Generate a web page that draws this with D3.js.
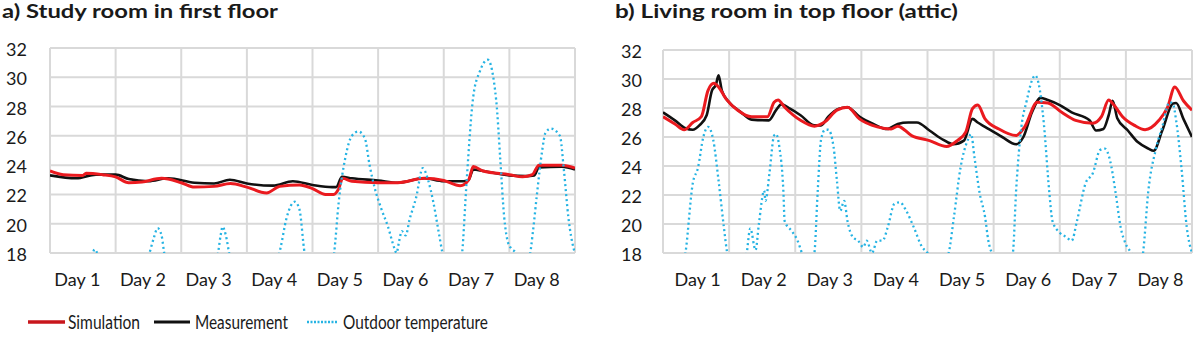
<!DOCTYPE html>
<html>
<head>
<meta charset="utf-8">
<script src="https://cdn.jsdelivr.net/npm/d3@7"></script>
<style>
  html, body { margin: 0; padding: 0; background: #fff; }
  svg { display: block; }
  text { font-family: Lato, "Open Sans", sans-serif; fill: #1a1a1a; }
</style>
</head>
<body>
<svg id="chart" width="1200" height="346"></svg>
<script>
// ---------- data ----------
const dayLabels = ["Day 1","Day 2","Day 3","Day 4","Day 5","Day 6","Day 7","Day 8"];
const yTicks = [18, 20, 22, 24, 26, 28, 30, 32];
const seriesNames = ["Simulation", "Measurement", "Outdoor temperature"];
const titles = ["a) Study room in first floor", "b) Living room in top floor (attic)"];

// [day, °C]
const simStudy = [[0,23.6],[0.2,23.35],[0.5,23.3],[0.55,23.45],[0.8,23.35],[1.0,23.2],[1.2,22.8],[1.4,22.85],[1.7,23.1],[2.0,22.8],[2.2,22.5],[2.5,22.55],[2.75,22.75],[3.0,22.5],[3.3,22.1],[3.5,22.55],[3.8,22.65],[4.0,22.4],[4.2,22.0],[4.32,22.0],[4.4,22.4],[4.46,23.1],[4.6,22.9],[5.0,22.8],[5.3,22.8],[5.7,23.1],[6.0,22.95],[6.25,22.6],[6.38,23.0],[6.45,23.9],[6.6,23.6],[7.0,23.35],[7.2,23.2],[7.35,23.35],[7.45,24.0],[7.8,24.0],[8.0,23.8]];
const measStudy = [[0,23.3],[0.4,23.1],[0.7,23.35],[1.0,23.35],[1.2,23.05],[1.5,22.9],[1.8,23.1],[2.2,22.8],[2.5,22.75],[2.74,23.0],[3.0,22.75],[3.4,22.6],[3.7,22.9],[4.0,22.65],[4.3,22.5],[4.36,22.5],[4.45,23.2],[4.6,23.1],[5.0,22.95],[5.3,22.8],[5.7,23.1],[6.0,22.9],[6.3,22.9],[6.38,23.0],[6.45,23.7],[6.6,23.6],[7.0,23.3],[7.25,23.25],[7.38,23.3],[7.45,23.85],[7.8,23.9],[8.0,23.7]];
const outStudy = [[0,15.5],[0.4,16.5],[0.64,17.8],[0.68,18.25],[0.72,18.0],[0.85,16.5],[1.2,15.0],[1.51,17.9],[1.58,19.0],[1.64,19.7],[1.7,19.2],[1.75,17.8],[2.1,15.5],[2.55,17.8],[2.6,19.2],[2.63,19.8],[2.68,19.2],[2.74,17.8],[3.1,15.0],[3.45,17.2],[3.52,18.5],[3.6,20.3],[3.73,21.5],[3.8,21.0],[3.88,18.0],[4.0,16.5],[4.25,16.0],[4.33,18.0],[4.4,21.5],[4.5,24.5],[4.6,26.0],[4.7,26.3],[4.8,25.8],[4.87,24.0],[4.95,22.4],[5.05,21.0],[5.15,19.8],[5.25,18.3],[5.28,18.0],[5.32,18.8],[5.36,19.5],[5.42,19.2],[5.48,20.3],[5.58,21.8],[5.68,23.8],[5.76,23.0],[5.84,21.5],[5.92,19.5],[5.98,18.0],[6.1,16.0],[6.22,16.5],[6.28,18.0],[6.35,23.0],[6.45,28.7],[6.55,30.4],[6.67,31.2],[6.8,28.4],[6.86,24.5],[6.92,20.5],[6.98,18.7],[7.03,18.3],[7.1,18.0],[7.2,16.5],[7.3,17.5],[7.36,19.5],[7.42,22.0],[7.5,25.0],[7.55,26.2],[7.63,26.5],[7.77,26.0],[7.83,23.7],[7.9,20.4],[7.98,18.3],[8.0,18.0]];

const simAttic = [[0,27.4],[0.18,26.9],[0.32,26.5],[0.45,27.0],[0.58,27.4],[0.68,29.2],[0.77,29.7],[0.84,29.45],[0.95,28.65],[1.13,27.85],[1.34,27.4],[1.58,27.4],[1.68,28.4],[1.74,28.55],[1.84,28.05],[2.08,27.15],[2.29,26.75],[2.45,27.05],[2.63,27.85],[2.79,28.05],[2.97,27.25],[3.24,26.7],[3.45,26.55],[3.55,26.75],[3.76,26.1],[4.03,25.75],[4.29,25.35],[4.45,25.75],[4.58,26.35],[4.68,27.95],[4.76,28.2],[4.87,27.25],[5.08,26.55],[5.34,26.1],[5.47,26.7],[5.66,28.4],[5.82,28.35],[6.03,27.7],[6.24,27.15],[6.5,26.95],[6.63,27.4],[6.74,28.55],[6.82,28.2],[6.95,27.4],[7.13,26.8],[7.29,26.5],[7.5,27.15],[7.63,28.05],[7.74,29.45],[7.87,28.5],[8.0,27.85]];
const measAttic = [[0,27.7],[0.18,27.15],[0.34,26.6],[0.45,26.5],[0.55,26.8],[0.66,27.5],[0.74,29.2],[0.8,29.6],[0.84,30.25],[0.89,29.2],[1.0,28.4],[1.18,27.7],[1.34,27.2],[1.6,27.15],[1.71,27.85],[1.79,28.25],[1.92,27.95],[2.08,27.5],[2.29,26.8],[2.39,26.8],[2.5,27.4],[2.66,27.95],[2.79,28.05],[2.97,27.4],[3.18,26.9],[3.39,26.55],[3.55,26.9],[3.71,27.0],[3.84,27.0],[4.03,26.45],[4.24,25.8],[4.39,25.5],[4.55,25.75],[4.68,27.25],[4.76,27.0],[4.87,26.7],[5.13,26.0],[5.34,25.5],[5.45,26.0],[5.58,27.7],[5.71,28.7],[5.82,28.55],[6.0,28.2],[6.18,27.7],[6.45,27.15],[6.55,26.45],[6.66,26.55],[6.74,27.5],[6.8,28.5],[6.87,27.3],[7.03,26.45],[7.18,25.65],[7.34,25.2],[7.42,25.05],[7.55,26.45],[7.71,28.3],[7.76,28.35],[7.87,27.25],[8.0,26.0]];
const outAttic = [[0,15.0],[0.2,15.8],[0.34,18.0],[0.45,22.8],[0.53,23.9],[0.61,26.0],[0.68,26.7],[0.76,25.8],[0.84,23.0],[0.92,19.8],[0.97,18.0],[1.1,16.0],[1.26,17.8],[1.32,19.7],[1.4,18.2],[1.45,20.0],[1.53,22.3],[1.55,21.6],[1.61,23.5],[1.68,26.1],[1.71,26.2],[1.76,25.3],[1.82,22.3],[1.84,20.2],[1.95,19.5],[2.03,18.9],[2.1,18.0],[2.2,16.5],[2.29,18.0],[2.34,22.3],[2.39,25.8],[2.45,26.5],[2.5,26.5],[2.58,25.3],[2.63,23.0],[2.68,20.9],[2.74,21.6],[2.79,20.2],[2.87,19.1],[2.95,18.85],[3.03,18.4],[3.08,18.85],[3.16,18.0],[3.24,18.85],[3.32,18.85],[3.4,19.8],[3.5,21.4],[3.58,21.5],[3.68,20.9],[3.79,19.8],[3.92,18.4],[4.0,18.0],[4.15,16.5],[4.32,18.0],[4.4,20.5],[4.5,23.9],[4.61,25.8],[4.66,26.2],[4.71,24.6],[4.79,22.1],[4.87,20.5],[4.92,18.85],[4.97,18.0],[5.1,16.5],[5.29,18.0],[5.34,22.3],[5.42,26.7],[5.5,28.5],[5.58,29.9],[5.63,30.25],[5.68,29.7],[5.76,26.9],[5.84,22.3],[5.89,20.2],[6.0,19.4],[6.1,19.1],[6.18,18.85],[6.26,20.2],[6.39,22.8],[6.5,23.5],[6.61,25.1],[6.68,25.2],[6.76,24.4],[6.84,22.3],[6.92,19.8],[7.0,18.6],[7.08,18.0],[7.2,16.5],[7.26,18.0],[7.34,22.3],[7.45,25.1],[7.55,26.7],[7.66,28.4],[7.71,28.3],[7.76,27.15],[7.84,23.9],[7.92,19.8],[8.0,18.0]];

// ---------- styles ----------
const colSim = "#ea1a1f", colMeas = "#111111", colOut = "#25b3e3", colGrid = "#d9d9d9";

const svg = d3.select("#chart");

function panel(idx, cfg) {
  const x = d3.scaleLinear().domain([0, 8]).range([cfg.x0, cfg.x1]);
  const y = d3.scaleLinear().domain([18, 32]).range([cfg.yb, cfg.yt]);
  const g = svg.append("g");

  // title
  g.append("text").attr("x", cfg.tx).attr("y", 18)
    .attr("font-size", 19.5).attr("font-weight", 700)
    .attr("textLength", cfg.tw).attr("lengthAdjust", "spacingAndGlyphs")
    .text(titles[idx]);

  // grid (horizontal)
  g.append("g").selectAll("line").data(yTicks).join("line")
    .attr("x1", cfg.x0).attr("x2", cfg.x1)
    .attr("y1", d => y(d)).attr("y2", d => y(d))
    .attr("stroke", colGrid).attr("stroke-width", 2);
  // grid (vertical) at day boundaries
  g.append("g").selectAll("line").data(d3.range(0, 9)).join("line")
    .attr("x1", d => x(d)).attr("x2", d => x(d))
    .attr("y1", y(32)).attr("y2", y(18))
    .attr("stroke", colGrid).attr("stroke-width", 2);

  // y axis labels
  const yAxis = d3.axisLeft(y).tickValues(yTicks).tickSize(0).tickPadding(0);
  const ya = g.append("g").attr("transform", `translate(${cfg.x0 - cfg.ylabGap},0)`).call(yAxis);
  ya.select(".domain").remove();
  ya.selectAll("text").attr("font-size", 18).attr("fill", "#1a1a1a")
    .style("font-family", "Lato, sans-serif").attr("dy", "0.42em");

  // x labels (category centred between day gridlines)
  const xAxis = d3.axisBottom(x).tickValues(d3.range(0.5, 8, 1))
    .tickFormat((d, i) => dayLabels[i]).tickSize(0).tickPadding(0);
  const xa = g.append("g").attr("transform", `translate(${cfg.xlabDx},${cfg.yb + 20})`).call(xAxis);
  xa.select(".domain").remove();
  xa.selectAll("text").attr("font-size", 18).attr("fill", "#1a1a1a")
    .style("font-family", "Lato, sans-serif").attr("dy", "0.71em");

  // clip
  const cid = "clip" + idx;
  svg.append("clipPath").attr("id", cid).append("rect")
    .attr("x", cfg.x0).attr("y", y(32) - 2).attr("width", cfg.x1 - cfg.x0).attr("height", y(18) - y(32) + 2);

  const line = d3.line().x(d => x(d[0])).y(d => y(d[1])).curve(d3.curveMonotoneX);
  const lg = g.append("g").attr("clip-path", `url(#${cid})`);
  lg.append("path").datum(cfg.meas).attr("d", line)
    .attr("fill", "none").attr("stroke", colMeas).attr("stroke-width", 2.6).attr("stroke-linejoin", "round");
  lg.append("path").datum(cfg.sim).attr("d", line)
    .attr("fill", "none").attr("stroke", colSim).attr("stroke-width", 3).attr("stroke-linejoin", "round");
  lg.append("path").datum(cfg.out).attr("d", line)
    .attr("fill", "none").attr("stroke", colOut).attr("stroke-width", 2.3)
    .attr("stroke-dasharray", "2,3");
}

panel(0, { x0: 50, x1: 575, yt: 48, yb: 253, tx: 2, tw: 276, ylabGap: 23, xlabDx: -6,
           sim: simStudy, meas: measStudy, out: outStudy });
panel(1, { x0: 663, x1: 1192, yt: 50, yb: 253, tx: 615, tw: 343, ylabGap: 21, xlabDx: 1,
           sim: simAttic, meas: measAttic, out: outAttic });

// ---------- legend ----------
const legendItems = [
  { name: seriesNames[0], color: "#c8161c", dash: null, x1: 28, x2: 65, tx: 68, tw: 72, w: 3.5 },
  { name: seriesNames[1], color: colMeas, dash: null, x1: 154, x2: 190, tx: 195, tw: 93, w: 3 },
  { name: seriesNames[2], color: colOut, dash: "2,1.5", x1: 307, x2: 338, tx: 343, tw: 145, w: 2.5 }
];
const lg = svg.append("g");
legendItems.forEach(it => {
  lg.append("line").attr("x1", it.x1).attr("x2", it.x2).attr("y1", 322).attr("y2", 322)
    .attr("stroke", it.color).attr("stroke-width", it.w)
    .attr("stroke-dasharray", it.dash);
  lg.append("text").attr("x", it.tx).attr("y", 328.5).attr("font-size", 18.5)
    .attr("textLength", it.tw).attr("lengthAdjust", "spacingAndGlyphs").text(it.name);
});
</script>
</body>
</html>
